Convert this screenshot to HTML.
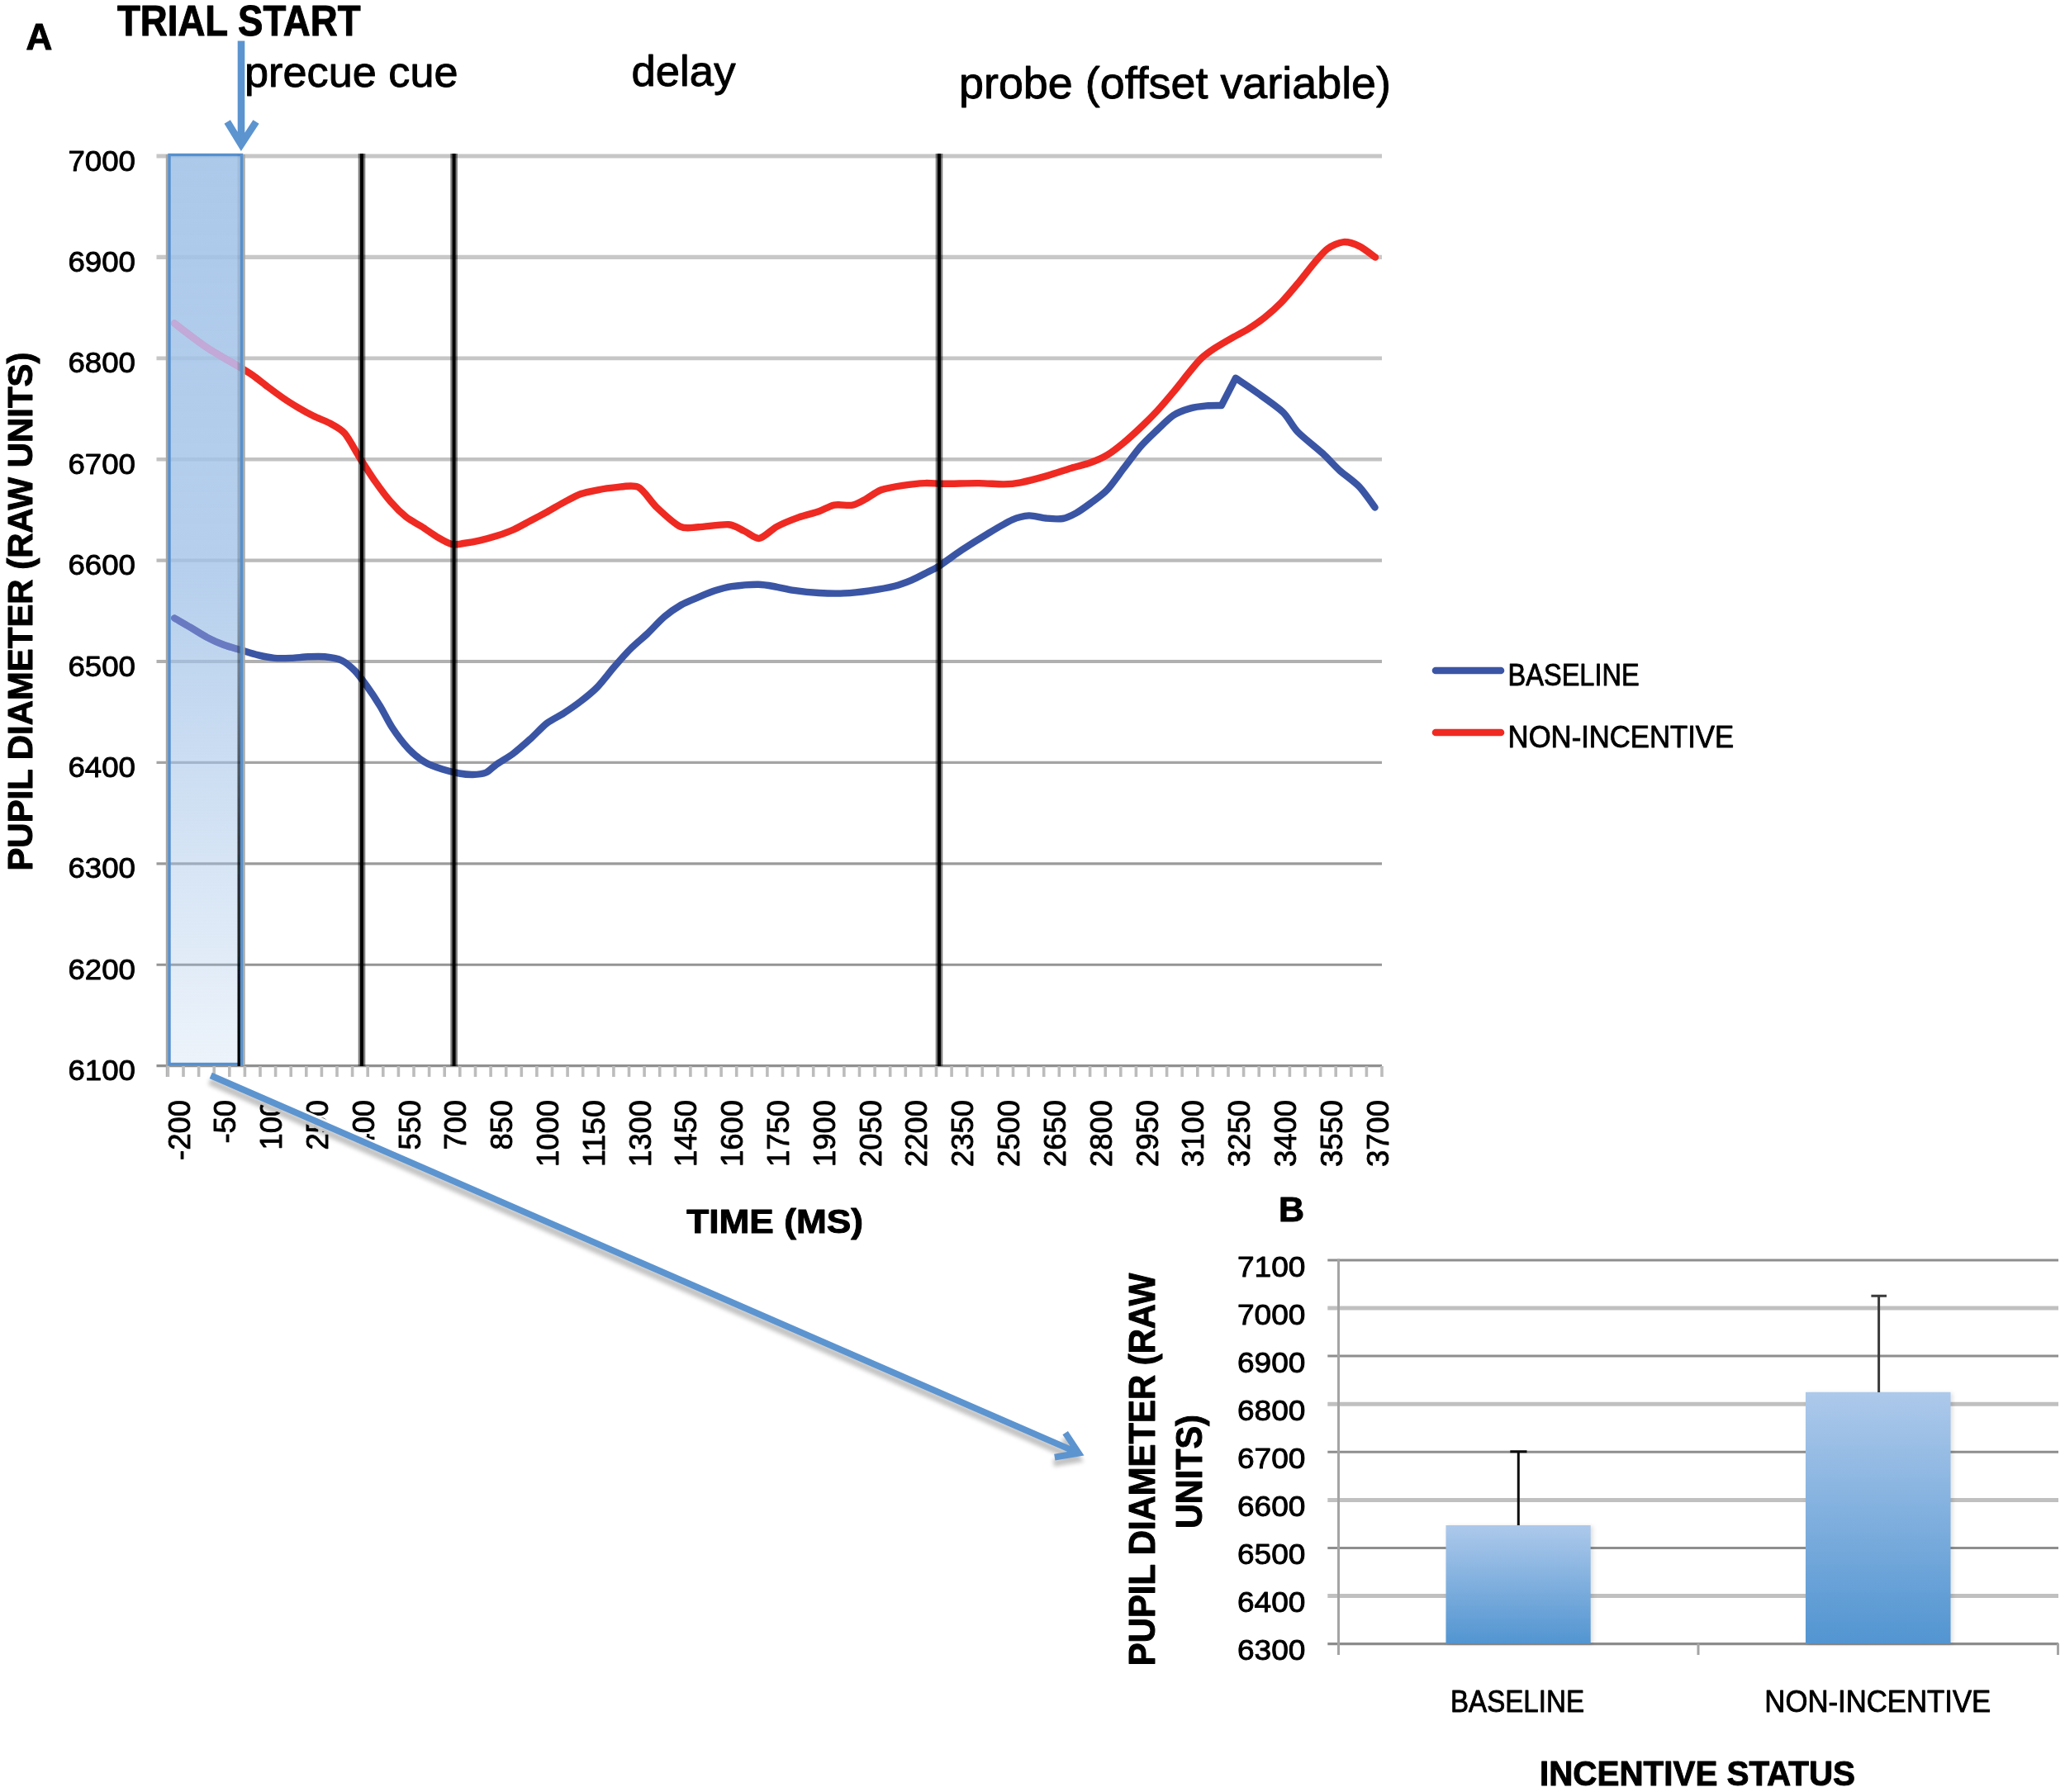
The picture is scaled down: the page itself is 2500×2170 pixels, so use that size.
<!DOCTYPE html>
<html lang="en"><head><meta charset="utf-8"><title>Pupil diameter figure</title>
<style>html,body{margin:0;padding:0;background:#fff}svg{display:block}text{font-family:"Liberation Sans",sans-serif;fill:#000;stroke:#000;stroke-width:0.9px;stroke-linejoin:round}.b{font-weight:bold;stroke-width:1px}</style></head><body>
<svg width="2500" height="2170" viewBox="0 0 2500 2170">
<defs>
<linearGradient id="boxg" x1="0" y1="0" x2="0" y2="1"><stop offset="0" stop-color="#a3c3e8" stop-opacity="0.9"/><stop offset="0.45" stop-color="#a3c3e8" stop-opacity="0.8"/><stop offset="1" stop-color="#a3c3e8" stop-opacity="0.2"/></linearGradient>
<linearGradient id="barg" x1="0" y1="0" x2="0" y2="1"><stop offset="0" stop-color="#adc9eb"/><stop offset="1" stop-color="#5295d1"/></linearGradient>
<filter id="bl" x="-5%" y="-5%" width="110%" height="110%"><feGaussianBlur stdDeviation="0.7"/></filter>
<filter id="sh" x="-5%" y="-5%" width="110%" height="110%"><feGaussianBlur stdDeviation="2.6"/></filter>
<linearGradient id="blg" x1="0" y1="0" x2="0" y2="1"><stop offset="0" stop-color="#000" stop-opacity="0.06"/><stop offset="0.45" stop-color="#000" stop-opacity="0.2"/><stop offset="0.75" stop-color="#000" stop-opacity="0.75"/><stop offset="1" stop-color="#000" stop-opacity="1"/></linearGradient>
</defs>
<rect width="2500" height="2170" fill="#fff"/>
<g filter="url(#bl)">
<line x1="189.5" x2="1673.0" y1="189.0" y2="189.0" stroke="#c6c6c6" stroke-width="5.2"/>
<line x1="189.5" x2="1673.0" y1="311.4" y2="311.4" stroke="#c8c8c8" stroke-width="5.2"/>
<line x1="189.5" x2="1673.0" y1="433.8" y2="433.8" stroke="#c6c6c6" stroke-width="4.8"/>
<line x1="189.5" x2="1673.0" y1="556.2" y2="556.2" stroke="#c2c2c2" stroke-width="4.5"/>
<line x1="189.5" x2="1673.0" y1="678.6" y2="678.6" stroke="#bababa" stroke-width="4.2"/>
<line x1="189.5" x2="1673.0" y1="801.0" y2="801.0" stroke="#b0b0b0" stroke-width="3.8"/>
<line x1="189.5" x2="1673.0" y1="923.4" y2="923.4" stroke="#a4a4a4" stroke-width="3.4"/>
<line x1="189.5" x2="1673.0" y1="1045.8" y2="1045.8" stroke="#9a9a9a" stroke-width="3.2"/>
<line x1="189.5" x2="1673.0" y1="1168.2" y2="1168.2" stroke="#949494" stroke-width="3.0"/>
<line x1="189.5" x2="1673.0" y1="1290.6" y2="1290.6" stroke="#909090" stroke-width="3.2"/>
<line x1="202.3" x2="202.3" y1="187" y2="1304" stroke="#a6a6a6" stroke-width="3"/>
<line x1="203.4" x2="203.4" y1="1291" y2="1304" stroke="#bcbcbc" stroke-width="3.6"/>
<line x1="222.0" x2="222.0" y1="1291" y2="1304" stroke="#bcbcbc" stroke-width="3.6"/>
<line x1="240.6" x2="240.6" y1="1291" y2="1304" stroke="#bcbcbc" stroke-width="3.6"/>
<line x1="259.2" x2="259.2" y1="1291" y2="1304" stroke="#bcbcbc" stroke-width="3.6"/>
<line x1="277.8" x2="277.8" y1="1291" y2="1304" stroke="#bcbcbc" stroke-width="3.6"/>
<line x1="296.4" x2="296.4" y1="1291" y2="1304" stroke="#bcbcbc" stroke-width="3.6"/>
<line x1="315.0" x2="315.0" y1="1291" y2="1304" stroke="#bcbcbc" stroke-width="3.6"/>
<line x1="333.6" x2="333.6" y1="1291" y2="1304" stroke="#bcbcbc" stroke-width="3.6"/>
<line x1="352.2" x2="352.2" y1="1291" y2="1304" stroke="#bcbcbc" stroke-width="3.6"/>
<line x1="370.8" x2="370.8" y1="1291" y2="1304" stroke="#bcbcbc" stroke-width="3.6"/>
<line x1="389.4" x2="389.4" y1="1291" y2="1304" stroke="#bcbcbc" stroke-width="3.6"/>
<line x1="408.0" x2="408.0" y1="1291" y2="1304" stroke="#bcbcbc" stroke-width="3.6"/>
<line x1="426.6" x2="426.6" y1="1291" y2="1304" stroke="#bcbcbc" stroke-width="3.6"/>
<line x1="445.2" x2="445.2" y1="1291" y2="1304" stroke="#bcbcbc" stroke-width="3.6"/>
<line x1="463.8" x2="463.8" y1="1291" y2="1304" stroke="#bcbcbc" stroke-width="3.6"/>
<line x1="482.4" x2="482.4" y1="1291" y2="1304" stroke="#bcbcbc" stroke-width="3.6"/>
<line x1="501.0" x2="501.0" y1="1291" y2="1304" stroke="#bcbcbc" stroke-width="3.6"/>
<line x1="519.6" x2="519.6" y1="1291" y2="1304" stroke="#bcbcbc" stroke-width="3.6"/>
<line x1="538.2" x2="538.2" y1="1291" y2="1304" stroke="#bcbcbc" stroke-width="3.6"/>
<line x1="556.8" x2="556.8" y1="1291" y2="1304" stroke="#bcbcbc" stroke-width="3.6"/>
<line x1="575.5" x2="575.5" y1="1291" y2="1304" stroke="#bcbcbc" stroke-width="3.6"/>
<line x1="594.1" x2="594.1" y1="1291" y2="1304" stroke="#bcbcbc" stroke-width="3.6"/>
<line x1="612.7" x2="612.7" y1="1291" y2="1304" stroke="#bcbcbc" stroke-width="3.6"/>
<line x1="631.3" x2="631.3" y1="1291" y2="1304" stroke="#bcbcbc" stroke-width="3.6"/>
<line x1="649.9" x2="649.9" y1="1291" y2="1304" stroke="#bcbcbc" stroke-width="3.6"/>
<line x1="668.5" x2="668.5" y1="1291" y2="1304" stroke="#bcbcbc" stroke-width="3.6"/>
<line x1="687.1" x2="687.1" y1="1291" y2="1304" stroke="#bcbcbc" stroke-width="3.6"/>
<line x1="705.7" x2="705.7" y1="1291" y2="1304" stroke="#bcbcbc" stroke-width="3.6"/>
<line x1="724.3" x2="724.3" y1="1291" y2="1304" stroke="#bcbcbc" stroke-width="3.6"/>
<line x1="742.9" x2="742.9" y1="1291" y2="1304" stroke="#bcbcbc" stroke-width="3.6"/>
<line x1="761.5" x2="761.5" y1="1291" y2="1304" stroke="#bcbcbc" stroke-width="3.6"/>
<line x1="780.1" x2="780.1" y1="1291" y2="1304" stroke="#bcbcbc" stroke-width="3.6"/>
<line x1="798.7" x2="798.7" y1="1291" y2="1304" stroke="#bcbcbc" stroke-width="3.6"/>
<line x1="817.3" x2="817.3" y1="1291" y2="1304" stroke="#bcbcbc" stroke-width="3.6"/>
<line x1="835.9" x2="835.9" y1="1291" y2="1304" stroke="#bcbcbc" stroke-width="3.6"/>
<line x1="854.5" x2="854.5" y1="1291" y2="1304" stroke="#bcbcbc" stroke-width="3.6"/>
<line x1="873.1" x2="873.1" y1="1291" y2="1304" stroke="#bcbcbc" stroke-width="3.6"/>
<line x1="891.7" x2="891.7" y1="1291" y2="1304" stroke="#bcbcbc" stroke-width="3.6"/>
<line x1="910.3" x2="910.3" y1="1291" y2="1304" stroke="#bcbcbc" stroke-width="3.6"/>
<line x1="928.9" x2="928.9" y1="1291" y2="1304" stroke="#bcbcbc" stroke-width="3.6"/>
<line x1="947.5" x2="947.5" y1="1291" y2="1304" stroke="#bcbcbc" stroke-width="3.6"/>
<line x1="966.1" x2="966.1" y1="1291" y2="1304" stroke="#bcbcbc" stroke-width="3.6"/>
<line x1="984.7" x2="984.7" y1="1291" y2="1304" stroke="#bcbcbc" stroke-width="3.6"/>
<line x1="1003.3" x2="1003.3" y1="1291" y2="1304" stroke="#bcbcbc" stroke-width="3.6"/>
<line x1="1021.9" x2="1021.9" y1="1291" y2="1304" stroke="#bcbcbc" stroke-width="3.6"/>
<line x1="1040.5" x2="1040.5" y1="1291" y2="1304" stroke="#bcbcbc" stroke-width="3.6"/>
<line x1="1059.1" x2="1059.1" y1="1291" y2="1304" stroke="#bcbcbc" stroke-width="3.6"/>
<line x1="1077.7" x2="1077.7" y1="1291" y2="1304" stroke="#bcbcbc" stroke-width="3.6"/>
<line x1="1096.3" x2="1096.3" y1="1291" y2="1304" stroke="#bcbcbc" stroke-width="3.6"/>
<line x1="1114.9" x2="1114.9" y1="1291" y2="1304" stroke="#bcbcbc" stroke-width="3.6"/>
<line x1="1133.5" x2="1133.5" y1="1291" y2="1304" stroke="#bcbcbc" stroke-width="3.6"/>
<line x1="1152.1" x2="1152.1" y1="1291" y2="1304" stroke="#bcbcbc" stroke-width="3.6"/>
<line x1="1170.7" x2="1170.7" y1="1291" y2="1304" stroke="#bcbcbc" stroke-width="3.6"/>
<line x1="1189.3" x2="1189.3" y1="1291" y2="1304" stroke="#bcbcbc" stroke-width="3.6"/>
<line x1="1207.9" x2="1207.9" y1="1291" y2="1304" stroke="#bcbcbc" stroke-width="3.6"/>
<line x1="1226.5" x2="1226.5" y1="1291" y2="1304" stroke="#bcbcbc" stroke-width="3.6"/>
<line x1="1245.1" x2="1245.1" y1="1291" y2="1304" stroke="#bcbcbc" stroke-width="3.6"/>
<line x1="1263.7" x2="1263.7" y1="1291" y2="1304" stroke="#bcbcbc" stroke-width="3.6"/>
<line x1="1282.3" x2="1282.3" y1="1291" y2="1304" stroke="#bcbcbc" stroke-width="3.6"/>
<line x1="1300.9" x2="1300.9" y1="1291" y2="1304" stroke="#bcbcbc" stroke-width="3.6"/>
<line x1="1319.6" x2="1319.6" y1="1291" y2="1304" stroke="#bcbcbc" stroke-width="3.6"/>
<line x1="1338.2" x2="1338.2" y1="1291" y2="1304" stroke="#bcbcbc" stroke-width="3.6"/>
<line x1="1356.8" x2="1356.8" y1="1291" y2="1304" stroke="#bcbcbc" stroke-width="3.6"/>
<line x1="1375.4" x2="1375.4" y1="1291" y2="1304" stroke="#bcbcbc" stroke-width="3.6"/>
<line x1="1394.0" x2="1394.0" y1="1291" y2="1304" stroke="#bcbcbc" stroke-width="3.6"/>
<line x1="1412.6" x2="1412.6" y1="1291" y2="1304" stroke="#bcbcbc" stroke-width="3.6"/>
<line x1="1431.2" x2="1431.2" y1="1291" y2="1304" stroke="#bcbcbc" stroke-width="3.6"/>
<line x1="1449.8" x2="1449.8" y1="1291" y2="1304" stroke="#bcbcbc" stroke-width="3.6"/>
<line x1="1468.4" x2="1468.4" y1="1291" y2="1304" stroke="#bcbcbc" stroke-width="3.6"/>
<line x1="1487.0" x2="1487.0" y1="1291" y2="1304" stroke="#bcbcbc" stroke-width="3.6"/>
<line x1="1505.6" x2="1505.6" y1="1291" y2="1304" stroke="#bcbcbc" stroke-width="3.6"/>
<line x1="1524.2" x2="1524.2" y1="1291" y2="1304" stroke="#bcbcbc" stroke-width="3.6"/>
<line x1="1542.8" x2="1542.8" y1="1291" y2="1304" stroke="#bcbcbc" stroke-width="3.6"/>
<line x1="1561.4" x2="1561.4" y1="1291" y2="1304" stroke="#bcbcbc" stroke-width="3.6"/>
<line x1="1580.0" x2="1580.0" y1="1291" y2="1304" stroke="#bcbcbc" stroke-width="3.6"/>
<line x1="1598.6" x2="1598.6" y1="1291" y2="1304" stroke="#bcbcbc" stroke-width="3.6"/>
<line x1="1617.2" x2="1617.2" y1="1291" y2="1304" stroke="#bcbcbc" stroke-width="3.6"/>
<line x1="1635.8" x2="1635.8" y1="1291" y2="1304" stroke="#bcbcbc" stroke-width="3.6"/>
<line x1="1654.4" x2="1654.4" y1="1291" y2="1304" stroke="#bcbcbc" stroke-width="3.6"/>
<line x1="1673.0" x2="1673.0" y1="1291" y2="1304" stroke="#bcbcbc" stroke-width="3.6"/>
<path d="M211.2 391.5C213.9 393.6 225.1 402.3 230.5 406.4C235.9 410.5 244.6 416.9 249.9 420.5C255.2 424.1 263.3 428.8 268.5 431.9C273.7 435.0 281.9 439.5 287.1 442.6C292.3 445.7 300.5 450.6 305.7 454.2C310.9 457.8 319.1 464.6 324.3 468.5C329.5 472.4 337.7 478.5 342.9 482.1C348.1 485.7 356.3 490.8 361.5 493.9C366.7 497.0 374.9 501.5 380.1 504.1C385.3 506.7 393.5 509.3 398.7 512.2C403.9 515.1 412.1 518.8 417.3 524.8C422.5 530.8 430.7 546.7 435.9 554.9C441.1 563.1 449.3 576.0 454.5 583.4C459.7 590.8 467.9 601.8 473.1 607.8C478.3 613.8 486.5 621.9 491.7 626.1C496.9 630.3 505.1 634.2 510.3 637.5C515.5 640.8 523.8 647.0 528.9 650.0C534.0 653.0 542.3 657.9 546.8 659.0C551.3 660.1 556.2 658.7 561.0 658.0C565.8 657.3 575.7 655.6 581.4 654.3C587.1 653.0 596.0 650.6 601.7 648.8C607.4 647.0 616.3 643.9 622.0 641.3C627.7 638.7 636.7 633.5 642.4 630.5C648.1 627.5 657.0 622.8 662.7 619.7C668.4 616.6 677.3 611.1 683.0 608.1C688.7 605.1 697.7 600.1 703.4 598.0C709.1 595.9 718.0 594.4 723.7 593.3C729.4 592.2 737.2 590.9 744.0 590.4C750.8 589.9 765.4 586.5 772.5 589.8C779.6 593.1 787.8 607.5 794.9 614.2C802.0 620.9 816.3 634.2 823.4 637.6C830.5 641.0 837.5 638.5 845.7 638.2C853.9 637.9 874.6 634.5 882.3 635.2C890.0 635.9 895.8 640.7 901.0 643.0C906.2 645.3 913.7 652.7 919.3 651.9C924.9 651.1 934.0 641.2 940.7 637.6C947.4 634.0 960.0 629.0 967.1 626.4C974.2 623.8 985.5 621.4 991.5 619.3C997.5 617.2 1004.1 612.7 1009.8 611.6C1015.5 610.5 1026.8 612.6 1032.2 611.6C1037.6 610.6 1043.7 606.7 1048.5 604.1C1053.3 601.5 1060.5 595.6 1066.8 593.3C1073.1 591.0 1085.8 588.9 1093.2 587.8C1100.6 586.7 1112.5 585.4 1119.6 585.1C1126.7 584.8 1134.9 585.8 1144.0 585.8C1153.1 585.8 1174.7 585.0 1184.7 585.1C1194.7 585.2 1208.1 586.5 1215.2 586.4C1222.3 586.3 1228.5 585.7 1235.6 584.3C1242.7 582.9 1257.6 579.0 1266.1 576.6C1274.6 574.2 1289.0 569.2 1296.6 566.9C1304.2 564.6 1314.0 562.5 1320.1 560.3C1326.2 558.1 1334.6 554.6 1340.2 551.2C1345.8 547.8 1354.7 540.8 1360.3 536.2C1365.9 531.6 1374.8 523.4 1380.4 518.1C1386.0 512.8 1394.9 504.0 1400.5 498.0C1406.1 492.0 1414.9 481.6 1420.5 474.9C1426.1 468.2 1435.8 455.6 1440.6 449.8C1445.4 444.0 1450.5 437.6 1454.7 433.7C1458.9 429.8 1465.7 425.0 1470.8 421.6C1475.9 418.2 1485.3 412.8 1490.9 409.6C1496.5 406.4 1505.4 402.0 1511.0 398.5C1516.6 395.0 1525.4 389.0 1531.0 384.5C1536.6 380.0 1545.5 372.2 1551.1 366.4C1556.7 360.6 1565.6 350.0 1571.2 343.3C1576.8 336.6 1586.2 324.1 1591.3 318.2C1596.4 312.3 1602.5 304.6 1607.4 301.1C1612.3 297.6 1621.2 293.5 1626.5 293.1C1631.8 292.7 1640.2 295.5 1645.6 298.1C1651.0 300.7 1662.3 309.6 1665.0 311.5" fill="none" stroke="#ee2a24" stroke-width="8.4" stroke-linecap="round" stroke-linejoin="round"/>
<path d="M211.2 748.5C213.9 750.1 225.0 756.4 230.5 759.7C236.0 763.0 245.1 768.9 250.8 771.9C256.5 774.9 265.5 778.9 271.2 781.0C276.9 783.1 285.8 785.4 291.5 787.1C297.2 788.8 306.2 791.8 311.9 793.2C317.6 794.6 326.5 796.4 332.2 796.9C337.9 797.4 346.8 797.1 352.5 796.9C358.2 796.7 367.2 795.5 372.9 795.3C378.6 795.1 387.5 794.7 393.2 795.3C398.9 795.9 408.5 797.3 413.6 799.7C418.7 802.1 425.5 808.1 429.8 812.5C434.1 816.9 439.8 824.8 444.1 830.8C448.4 836.8 456.0 848.2 460.3 855.2C464.6 862.2 469.8 873.4 474.6 880.7C479.4 888.0 489.2 901.1 494.9 907.1C500.6 913.1 509.5 920.0 515.2 923.4C520.9 926.8 529.9 929.7 535.6 931.5C541.3 933.3 550.8 935.6 555.9 936.5C561.0 937.4 567.6 938.1 572.2 938.0C576.8 937.9 584.5 937.2 588.5 935.5C592.5 933.8 596.4 928.9 601.0 925.7C605.6 922.5 615.7 916.8 621.4 912.5C627.1 908.2 636.0 900.3 641.7 895.2C647.4 890.1 656.3 880.3 662.0 875.9C667.7 871.5 676.7 867.4 682.4 863.7C688.1 860.0 697.0 853.9 702.7 849.5C708.4 845.1 717.3 838.0 723.0 832.2C728.7 826.4 737.7 814.4 743.4 807.8C749.1 801.2 758.0 791.1 763.7 785.4C769.4 779.7 778.3 772.5 784.0 767.1C789.7 761.7 798.7 751.6 804.4 746.8C810.1 742.0 819.0 735.8 824.7 732.5C830.4 729.2 839.4 725.8 845.1 723.4C850.8 721.0 859.7 717.1 865.4 715.3C871.1 713.5 878.3 711.3 885.7 710.2C893.1 709.1 910.6 707.6 918.3 707.7C926.0 707.8 934.7 709.8 940.7 710.8C946.7 711.8 953.9 713.9 961.0 714.9C968.1 715.9 983.0 717.5 991.5 718.0C1000.0 718.5 1013.5 718.8 1022.0 718.4C1030.5 718.0 1044.0 716.5 1052.5 715.3C1061.0 714.1 1075.9 711.6 1083.0 709.8C1090.1 708.0 1097.7 705.1 1103.4 702.7C1109.1 700.3 1119.0 694.9 1123.7 692.5C1128.4 690.1 1131.2 689.1 1136.9 685.4C1142.6 681.7 1156.3 671.5 1164.4 666.1C1172.5 660.7 1186.4 651.9 1194.9 646.8C1203.4 641.7 1218.3 632.6 1225.4 629.5C1232.5 626.4 1240.0 624.7 1245.7 624.4C1251.4 624.1 1260.4 627.0 1266.1 627.5C1271.8 628.0 1281.3 628.9 1286.4 628.0C1291.5 627.1 1298.0 624.0 1302.7 621.4C1307.4 618.8 1314.8 613.4 1320.1 609.5C1325.3 605.6 1334.6 599.3 1340.2 593.4C1345.8 587.5 1354.7 574.6 1360.3 567.3C1365.9 560.0 1374.8 547.7 1380.4 541.2C1386.0 534.7 1394.9 526.4 1400.5 521.1C1406.1 515.8 1414.9 506.7 1420.5 503.0C1426.1 499.3 1435.0 496.2 1440.6 494.6C1446.2 493.0 1455.4 491.9 1460.7 491.4C1466.0 490.9 1476.3 491.1 1478.8 491.0L1495.9 457.8C1499.4 460.2 1513.0 469.1 1521.0 474.9C1529.0 480.7 1546.1 492.3 1553.1 499.0C1560.1 505.7 1564.4 516.1 1571.2 523.1C1578.0 530.1 1594.4 542.7 1601.4 549.2C1608.4 555.7 1615.2 563.7 1621.4 569.3C1627.6 574.9 1639.6 583.1 1645.6 589.4C1651.6 595.7 1661.9 611.0 1664.6 614.5" fill="none" stroke="#3b55a5" stroke-width="8.4" stroke-linecap="round" stroke-linejoin="round"/>
<line x1="438.0" x2="438.0" y1="186" y2="1291" stroke="#000" stroke-opacity="0.5" stroke-width="8.6"/>
<line x1="438.0" x2="438.0" y1="186" y2="1291" stroke="#000" stroke-width="4"/>
<line x1="549.6" x2="549.6" y1="186" y2="1291" stroke="#000" stroke-opacity="0.5" stroke-width="8.6"/>
<line x1="549.6" x2="549.6" y1="186" y2="1291" stroke="#000" stroke-width="4"/>
<line x1="1137.0" x2="1137.0" y1="186" y2="1291" stroke="#000" stroke-opacity="0.5" stroke-width="8.6"/>
<line x1="1137.0" x2="1137.0" y1="186" y2="1291" stroke="#000" stroke-width="4"/>
<line x1="295.4" x2="295.4" y1="187" y2="1290" stroke="#a8a8a8" stroke-width="2.6"/>
<rect x="205" y="187.5" width="87.5" height="1101" fill="url(#boxg)" stroke="#5790ce" stroke-width="3.4"/>
<clipPath id="bc"><rect x="206.7" y="189" width="82" height="1098"/></clipPath>
<g clip-path="url(#bc)"><path d="M211.2 391.5C213.9 393.6 225.1 402.3 230.5 406.4C235.9 410.5 244.6 416.9 249.9 420.5C255.2 424.1 263.3 428.8 268.5 431.9C273.7 435.0 281.9 439.5 287.1 442.6C292.3 445.7 300.5 450.6 305.7 454.2C310.9 457.8 321.7 466.5 324.3 468.5" fill="none" stroke="#c2a9d8" stroke-width="8.4" stroke-linecap="round"/><path d="M211.2 748.5C213.9 750.1 225.0 756.4 230.5 759.7C236.0 763.0 245.1 768.9 250.8 771.9C256.5 774.9 265.5 778.9 271.2 781.0C276.9 783.1 285.8 785.4 291.5 787.1C297.2 788.8 306.2 791.8 311.9 793.2C317.6 794.6 329.4 796.4 332.2 796.9" fill="none" stroke="#6b7ac2" stroke-width="8.4" stroke-linecap="round"/></g>
<rect x="287.5" y="187" width="3.4" height="1104" fill="url(#blg)"/>
<path d="M292 49.5V172M275.2 147.5L292 175L310 147.5" fill="none" stroke="#5b94d0" stroke-width="8.6" stroke-linejoin="miter" stroke-linecap="butt"/>
<line x1="1738" x2="1817" y1="812" y2="812" stroke="#3b55a5" stroke-width="8.6" stroke-linecap="round"/>
<line x1="1738" x2="1817" y1="887" y2="887" stroke="#ee2a24" stroke-width="8.6" stroke-linecap="round"/>
<line x1="1607.3" x2="2492.0" y1="1525.9" y2="1525.9" stroke="#8e8e8e" stroke-width="3.0"/>
<line x1="1607.3" x2="2492.0" y1="1584.0" y2="1584.0" stroke="#c0c0c0" stroke-width="5.0"/>
<line x1="1607.3" x2="2492.0" y1="1642.1" y2="1642.1" stroke="#8e8e8e" stroke-width="3.0"/>
<line x1="1607.3" x2="2492.0" y1="1700.2" y2="1700.2" stroke="#c0c0c0" stroke-width="5.0"/>
<line x1="1607.3" x2="2492.0" y1="1758.3" y2="1758.3" stroke="#8e8e8e" stroke-width="3.0"/>
<line x1="1607.3" x2="2492.0" y1="1816.4" y2="1816.4" stroke="#c0c0c0" stroke-width="5.0"/>
<line x1="1607.3" x2="2492.0" y1="1874.5" y2="1874.5" stroke="#8e8e8e" stroke-width="3.0"/>
<line x1="1607.3" x2="2492.0" y1="1932.6" y2="1932.6" stroke="#c0c0c0" stroke-width="5.0"/>
<line x1="1607.3" x2="2492.0" y1="1990.7" y2="1990.7" stroke="#8c8c8c" stroke-width="3.2"/>
<line x1="1620.5" x2="1620.5" y1="1524.5" y2="2004" stroke="#a4a4a4" stroke-width="3"/>
<line x1="2056.0" x2="2056.0" y1="1990" y2="2004" stroke="#a4a4a4" stroke-width="3"/>
<line x1="2491.5" x2="2491.5" y1="1990" y2="2004" stroke="#a4a4a4" stroke-width="3"/>
<rect x="1752.5" y="1848" width="176" height="143" fill="#000" fill-opacity="0.12" filter="url(#sh)"/>
<rect x="2188" y="1687" width="176" height="304" fill="#000" fill-opacity="0.12" filter="url(#sh)"/>
<rect x="1750.5" y="1847" width="175.2" height="143" fill="url(#barg)"/>
<rect x="2186" y="1685.8" width="175.5" height="304.2" fill="url(#barg)"/>
<path d="M1838.3 1847V1757.7M1828.3 1757.7H1848.5" fill="none" stroke="#111" stroke-width="3"/>
<path d="M2274.6 1686V1569.2M2265.4 1569.2H2284" fill="none" stroke="#3a3a3a" stroke-width="3"/>
</g>
<g filter="url(#bl)">
<text transform="translate(229.5 1332) rotate(-90)" font-size="36.5" text-anchor="end" textLength="73.0" lengthAdjust="spacingAndGlyphs">-200</text>
<text transform="translate(285.3 1332) rotate(-90)" font-size="36.5" text-anchor="end" textLength="52.5" lengthAdjust="spacingAndGlyphs">-50</text>
<text transform="translate(341.1 1332) rotate(-90)" font-size="36.5" text-anchor="end" textLength="60.5" lengthAdjust="spacingAndGlyphs">100</text>
<text transform="translate(396.9 1332) rotate(-90)" font-size="36.5" text-anchor="end" textLength="60.5" lengthAdjust="spacingAndGlyphs">250</text>
<text transform="translate(452.7 1332) rotate(-90)" font-size="36.5" text-anchor="end" textLength="60.5" lengthAdjust="spacingAndGlyphs">400</text>
<text transform="translate(508.5 1332) rotate(-90)" font-size="36.5" text-anchor="end" textLength="60.5" lengthAdjust="spacingAndGlyphs">550</text>
<text transform="translate(564.3 1332) rotate(-90)" font-size="36.5" text-anchor="end" textLength="60.5" lengthAdjust="spacingAndGlyphs">700</text>
<text transform="translate(620.2 1332) rotate(-90)" font-size="36.5" text-anchor="end" textLength="60.5" lengthAdjust="spacingAndGlyphs">850</text>
<text transform="translate(676.0 1332) rotate(-90)" font-size="36.5" text-anchor="end" textLength="81.0" lengthAdjust="spacingAndGlyphs">1000</text>
<text transform="translate(731.8 1332) rotate(-90)" font-size="36.5" text-anchor="end" textLength="81.0" lengthAdjust="spacingAndGlyphs">1150</text>
<text transform="translate(787.6 1332) rotate(-90)" font-size="36.5" text-anchor="end" textLength="81.0" lengthAdjust="spacingAndGlyphs">1300</text>
<text transform="translate(843.4 1332) rotate(-90)" font-size="36.5" text-anchor="end" textLength="81.0" lengthAdjust="spacingAndGlyphs">1450</text>
<text transform="translate(899.2 1332) rotate(-90)" font-size="36.5" text-anchor="end" textLength="81.0" lengthAdjust="spacingAndGlyphs">1600</text>
<text transform="translate(955.0 1332) rotate(-90)" font-size="36.5" text-anchor="end" textLength="81.0" lengthAdjust="spacingAndGlyphs">1750</text>
<text transform="translate(1010.8 1332) rotate(-90)" font-size="36.5" text-anchor="end" textLength="81.0" lengthAdjust="spacingAndGlyphs">1900</text>
<text transform="translate(1066.6 1332) rotate(-90)" font-size="36.5" text-anchor="end" textLength="81.0" lengthAdjust="spacingAndGlyphs">2050</text>
<text transform="translate(1122.4 1332) rotate(-90)" font-size="36.5" text-anchor="end" textLength="81.0" lengthAdjust="spacingAndGlyphs">2200</text>
<text transform="translate(1178.2 1332) rotate(-90)" font-size="36.5" text-anchor="end" textLength="81.0" lengthAdjust="spacingAndGlyphs">2350</text>
<text transform="translate(1234.0 1332) rotate(-90)" font-size="36.5" text-anchor="end" textLength="81.0" lengthAdjust="spacingAndGlyphs">2500</text>
<text transform="translate(1289.8 1332) rotate(-90)" font-size="36.5" text-anchor="end" textLength="81.0" lengthAdjust="spacingAndGlyphs">2650</text>
<text transform="translate(1345.7 1332) rotate(-90)" font-size="36.5" text-anchor="end" textLength="81.0" lengthAdjust="spacingAndGlyphs">2800</text>
<text transform="translate(1401.5 1332) rotate(-90)" font-size="36.5" text-anchor="end" textLength="81.0" lengthAdjust="spacingAndGlyphs">2950</text>
<text transform="translate(1457.3 1332) rotate(-90)" font-size="36.5" text-anchor="end" textLength="81.0" lengthAdjust="spacingAndGlyphs">3100</text>
<text transform="translate(1513.1 1332) rotate(-90)" font-size="36.5" text-anchor="end" textLength="81.0" lengthAdjust="spacingAndGlyphs">3250</text>
<text transform="translate(1568.9 1332) rotate(-90)" font-size="36.5" text-anchor="end" textLength="81.0" lengthAdjust="spacingAndGlyphs">3400</text>
<text transform="translate(1624.7 1332) rotate(-90)" font-size="36.5" text-anchor="end" textLength="81.0" lengthAdjust="spacingAndGlyphs">3550</text>
<text transform="translate(1680.5 1332) rotate(-90)" font-size="36.5" text-anchor="end" textLength="81.0" lengthAdjust="spacingAndGlyphs">3700</text>
</g>
<g filter="url(#bl)">
<line x1="275.2" y1="1311.6" x2="1275.9" y2="1747.2" stroke="#fff" stroke-opacity="0.97" stroke-width="15"/>
</g>
<path d="M255.2 1302.4L1303.2 1758.5M1289.7 1735.1L1305.9 1759.7L1276.8 1764.6" transform="translate(-1.5 7)" fill="none" stroke="#000" stroke-opacity="0.24" stroke-width="9" filter="url(#sh)"/>
<path d="M255.2 1302.4L1303.2 1758.5M1289.7 1735.1L1305.9 1759.7L1276.8 1764.6" fill="none" stroke="#5b94d0" stroke-width="7.8" filter="url(#bl)"/>
<g filter="url(#bl)">
<text x="31.5" y="60.4" font-size="44.0" class="b">A</text>
<text x="142.0" y="43.0" font-size="51.0" textLength="294.5" lengthAdjust="spacingAndGlyphs" class="b">TRIAL START</text>
<text x="296.0" y="105.0" font-size="51.7" textLength="258.5" lengthAdjust="spacingAndGlyphs">precue cue</text>
<text x="764.5" y="104.0" font-size="51.7" textLength="126.0" lengthAdjust="spacingAndGlyphs">delay</text>
<text x="1161.0" y="119.0" font-size="53.3" textLength="523.0" lengthAdjust="spacingAndGlyphs">probe (offset variable)</text>
<text x="82.5" y="206.5" font-size="35.5" textLength="81.5" lengthAdjust="spacingAndGlyphs">7000</text>
<text x="82.5" y="328.9" font-size="35.5" textLength="81.5" lengthAdjust="spacingAndGlyphs">6900</text>
<text x="82.5" y="451.3" font-size="35.5" textLength="81.5" lengthAdjust="spacingAndGlyphs">6800</text>
<text x="82.5" y="573.7" font-size="35.5" textLength="81.5" lengthAdjust="spacingAndGlyphs">6700</text>
<text x="82.5" y="696.1" font-size="35.5" textLength="81.5" lengthAdjust="spacingAndGlyphs">6600</text>
<text x="82.5" y="818.5" font-size="35.5" textLength="81.5" lengthAdjust="spacingAndGlyphs">6500</text>
<text x="82.5" y="940.9" font-size="35.5" textLength="81.5" lengthAdjust="spacingAndGlyphs">6400</text>
<text x="82.5" y="1063.3" font-size="35.5" textLength="81.5" lengthAdjust="spacingAndGlyphs">6300</text>
<text x="82.5" y="1185.7" font-size="35.5" textLength="81.5" lengthAdjust="spacingAndGlyphs">6200</text>
<text x="82.5" y="1308.1" font-size="35.5" textLength="81.5" lengthAdjust="spacingAndGlyphs">6100</text>
<text transform="translate(39.1 1054.6) rotate(-90)" font-size="43" class="b" textLength="628" lengthAdjust="spacingAndGlyphs">PUPIL DIAMETER (RAW UNITS)</text>
<text x="831.2" y="1493.0" font-size="41.0" textLength="213.8" lengthAdjust="spacingAndGlyphs" class="b">TIME (MS)</text>
<text x="1825.6" y="830.2" font-size="36.5" textLength="159.0" lengthAdjust="spacingAndGlyphs">BASELINE</text>
<text x="1825.6" y="904.8" font-size="36.5" textLength="273.5" lengthAdjust="spacingAndGlyphs">NON-INCENTIVE</text>
<text x="1548.0" y="1478.8" font-size="43.0" class="b">B</text>
<text x="1498.0" y="1545.6" font-size="35.8" textLength="82.5" lengthAdjust="spacingAndGlyphs">7100</text>
<text x="1498.0" y="1603.7" font-size="35.8" textLength="82.5" lengthAdjust="spacingAndGlyphs">7000</text>
<text x="1498.0" y="1661.8" font-size="35.8" textLength="82.5" lengthAdjust="spacingAndGlyphs">6900</text>
<text x="1498.0" y="1719.9" font-size="35.8" textLength="82.5" lengthAdjust="spacingAndGlyphs">6800</text>
<text x="1498.0" y="1778.0" font-size="35.8" textLength="82.5" lengthAdjust="spacingAndGlyphs">6700</text>
<text x="1498.0" y="1836.1" font-size="35.8" textLength="82.5" lengthAdjust="spacingAndGlyphs">6600</text>
<text x="1498.0" y="1894.2" font-size="35.8" textLength="82.5" lengthAdjust="spacingAndGlyphs">6500</text>
<text x="1498.0" y="1952.3" font-size="35.8" textLength="82.5" lengthAdjust="spacingAndGlyphs">6400</text>
<text x="1498.0" y="2010.4" font-size="35.8" textLength="82.5" lengthAdjust="spacingAndGlyphs">6300</text>
<text transform="translate(1398 2017.2) rotate(-90)" font-size="44" class="b" textLength="475.4" lengthAdjust="spacingAndGlyphs">PUPIL DIAMETER (RAW</text>
<text transform="translate(1454.7 1851.1) rotate(-90)" font-size="44" class="b" textLength="138" lengthAdjust="spacingAndGlyphs">UNITS)</text>
<text x="1756.0" y="2073.4" font-size="36.5" textLength="162.0" lengthAdjust="spacingAndGlyphs">BASELINE</text>
<text x="2136.3" y="2072.9" font-size="36.5" textLength="274.0" lengthAdjust="spacingAndGlyphs">NON-INCENTIVE</text>
<text x="1864.0" y="2162.0" font-size="42.5" textLength="382.0" lengthAdjust="spacingAndGlyphs" class="b">INCENTIVE STATUS</text>
</g>
</svg></body></html>
